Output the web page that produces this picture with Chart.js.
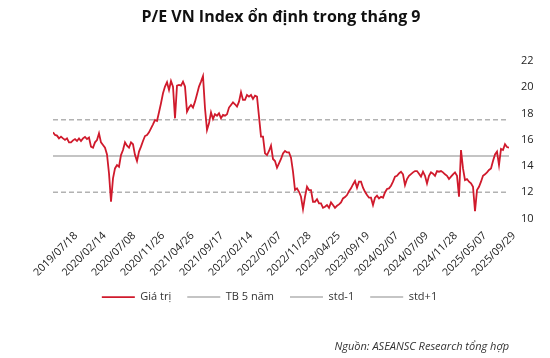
<!DOCTYPE html>
<html><head><meta charset="utf-8">
<script src="https://cdn.jsdelivr.net/npm/chart.js@4/dist/chart.umd.min.js"></script>
<style>html,body{margin:0;padding:0;background:#fff}#wrap{width:550px;height:358px}</style>
</head><body><div id="wrap"><canvas id="c" width="550" height="358"></canvas></div>
<script>
// X-axis date labels and the data index at which each one sits
const dateLabels = ['2019/07/18','2020/02/14','2020/07/08','2020/11/26','2021/04/26','2021/09/17','2022/02/14','2022/07/07','2022/11/28','2023/04/25','2023/09/19','2024/02/07','2024/07/09','2024/11/28','2025/05/07','2025/09/29'];
const dateTickIndex = [11.5, 25.75, 40.5, 55, 69.75, 84.5, 99, 113.5, 128.25, 142.85, 157.5, 172, 186.85, 201.4, 216, 230.5];

const peValues = [
16.56,16.36,16.31,16.10,16.23,16.10,15.98,16.10,15.80,15.80,
15.95,16.05,15.90,16.10,15.90,16.10,16.21,16.05,16.16,15.47,
15.39,15.80,15.98,16.49,15.80,15.60,15.39,14.88,13.43,11.27,
13.05,13.81,14.07,13.94,14.83,15.21,15.80,15.55,15.39,15.80,
15.65,14.83,14.37,15.09,15.47,15.90,
16.28,16.36,16.56,16.87,17.17,17.50,17.43,18.09,18.78,19.54,
20.05,20.38,19.79,20.48,20.05,17.63,20.12,20.18,20.12,20.43,
20.05,18.14,18.45,18.65,18.45,18.90,19.46,20.05,20.43,20.85,
18.40,16.74,17.25,18.09,17.58,17.94,17.83,18.01,17.63,17.89,
17.83,17.94,18.45,18.65,18.85,18.70,
18.52,18.90,19.62,19.03,19.03,19.41,19.28,19.41,19.11,19.36,
19.28,17.76,16.23,16.23,14.96,14.83,15.14,15.55,14.53,14.37,
13.87,14.20,14.53,14.96,15.14,15.03,15.03,14.63,13.56,12.16,
12.29,12.03,11.65,10.71,11.65,12.41,12.16,12.16,11.27,11.27,
11.47,11.14,11.14,10.81,10.89,11.02,
10.81,11.22,11.02,10.81,10.96,11.07,11.22,11.52,11.63,11.78,
12.08,12.29,12.59,12.85,12.34,12.80,12.80,12.34,12.03,11.78,
11.58,11.58,11.02,11.58,11.73,11.52,11.65,11.58,11.98,12.24,
12.29,12.49,12.80,13.18,13.25,13.43,13.56,13.36,12.54,13.00,
13.25,13.38,13.51,13.61,13.61,13.41,
13.18,13.56,13.25,12.67,13.25,13.51,13.41,13.25,13.61,13.56,
13.61,13.51,13.36,13.25,13.00,13.18,13.36,13.51,13.25,11.65,
15.21,13.81,12.92,13.00,12.80,12.67,12.41,10.56,12.16,12.41,
12.80,13.25,13.36,13.51,13.69,13.81,14.37,14.88,15.09,14.07,
15.29,15.21,15.65,15.44,15.39
];

// 5-year mean and ±1 standard deviation
const mean5y = 14.76;
const stdMinus1 = 11.99;
const stdPlus1 = 17.53;

// y-axis range
const yMin = 10, yMax = 22, yStep = 2;

const FONT = "'Open Sans', 'Noto Sans', sans-serif";
const lastIdx = peValues.length - 1;
const toXY = arr => arr.map((v, i) => ({x: i, y: v}));
const flat = v => [{x: 0, y: v}, {x: lastIdx, y: v}];

new Chart(document.getElementById('c'), {
  type: 'line',
  data: {
    datasets: [
      {label: 'Giá trị', data: toXY(peValues), borderColor: '#D01A2C', borderWidth: 1.8, pointRadius: 0, tension: 0},
      {label: 'TB 5 năm', data: flat(mean5y), borderColor: '#C4C4C4', borderWidth: 2, pointRadius: 0},
      {label: 'std-1', data: flat(stdMinus1), borderColor: '#B2B2B2', borderWidth: 1.5, borderDash: [5, 3], pointRadius: 0},
      {label: 'std+1', data: flat(stdPlus1), borderColor: '#B2B2B2', borderWidth: 1.5, borderDash: [5, 3], pointRadius: 0}
    ]
  },
  options: {
    responsive: false, animation: false, devicePixelRatio: 1,
    layout: {padding: {left: 0, right: 11, top: 0, bottom: 0}},
    plugins: {
      title: {display: true, fullSize: false, text: 'P/E VN Index ổn định trong tháng 9', color: '#111',
        font: {family: FONT, size: 16, weight: 'bold'}, padding: {top: 8, bottom: 33.8}},
      subtitle: {display: true, position: 'bottom', align: 'end', fullSize: false,
        text: 'Nguồn: ASEANSC Research tổng hợp', color: '#333',
        font: {family: FONT, size: 11, style: 'italic'}, padding: {top: 28, bottom: 4.2}},
      legend: {position: 'bottom', labels: {usePointStyle: true, pointStyle: 'line', pointStyleWidth: 33,
        padding: 16, color: '#333', font: {family: FONT, size: 11}}},
      tooltip: {enabled: false}
    },
    scales: {
      x: {type: 'linear', min: 0, max: lastIdx,
        grid: {display: false, drawTicks: false}, border: {display: false},
        afterBuildTicks: s => { s.ticks = dateTickIndex.map(v => ({value: v})); },
        afterFit: s => { s.height = 57.2; s.paddingLeft = 53; },
        ticks: {autoSkip: false, minRotation: 45, maxRotation: 45, padding: 11, color: '#222',
          font: {family: FONT, size: 10.8}, callback: (v, i) => dateLabels[i]}},
      y: {position: 'right', min: yMin, max: yMax,
        grid: {display: false, drawTicks: false}, border: {display: false},
        afterFit: s => { s.width = 30; },
        ticks: {stepSize: yStep, padding: 12, color: '#222', font: {family: FONT, size: 11}}}
    }
  }
});
</script></body></html>
